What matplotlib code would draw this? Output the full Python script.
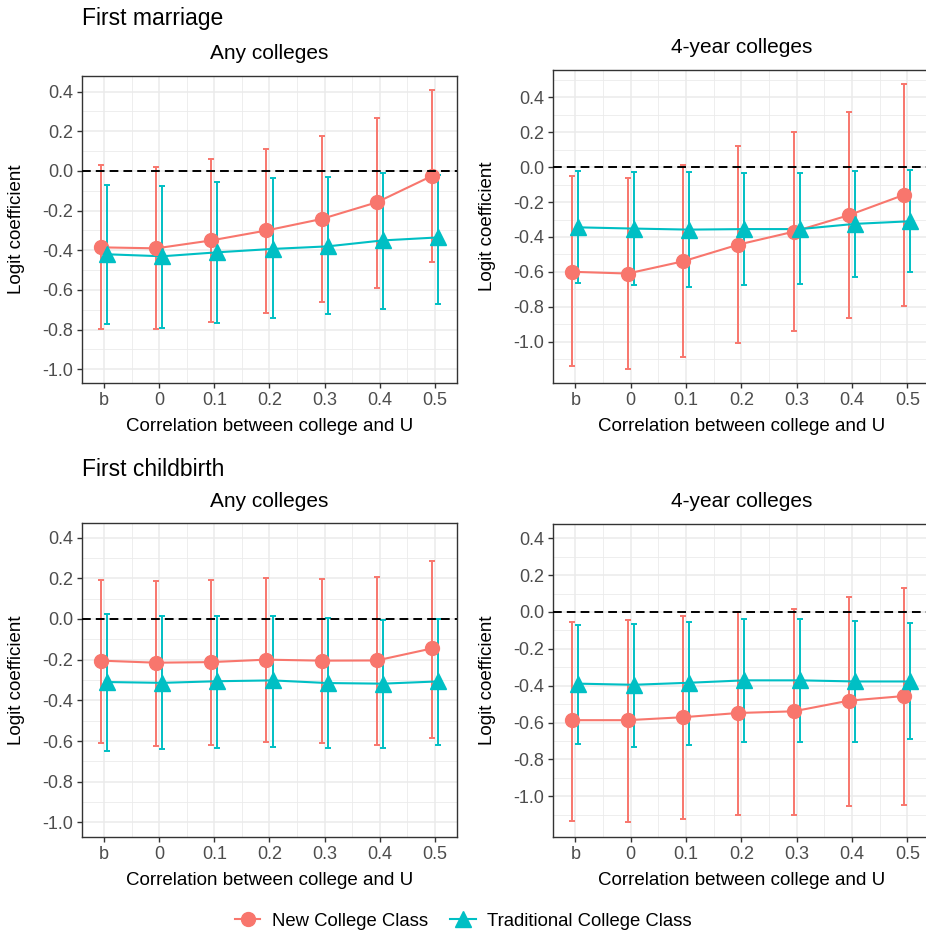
import numpy as np
import matplotlib
matplotlib.use("Agg")
import matplotlib.pyplot as plt
from matplotlib.lines import Line2D

plt.rcParams['font.family'] = ['Liberation Sans', 'DejaVu Sans']
plt.rcParams['axes.unicode_minus'] = False

# categories on the x axis
categories = ["b", "0", "0.1", "0.2", "0.3", "0.4", "0.5"]

# First marriage, any colleges
marriage_any_new = [-0.385, -0.39, -0.35, -0.30, -0.242, -0.158, -0.025]
marriage_any_new_lo = [-0.795, -0.795, -0.76, -0.715, -0.66, -0.588, -0.46]
marriage_any_new_hi = [0.03, 0.02, 0.063, 0.113, 0.178, 0.268, 0.41]
marriage_any_trad = [-0.42, -0.43, -0.41, -0.393, -0.38, -0.35, -0.335]
marriage_any_trad_lo = [-0.77, -0.79, -0.767, -0.74, -0.72, -0.695, -0.67]
marriage_any_trad_hi = [-0.07, -0.075, -0.057, -0.037, -0.028, -0.008, -0.02]

# First marriage, 4-year colleges
marriage_4yr_new = [-0.60, -0.61, -0.54, -0.444, -0.37, -0.275, -0.158]
marriage_4yr_new_lo = [-1.143, -1.158, -1.088, -1.006, -0.94, -0.865, -0.797]
marriage_4yr_new_hi = [-0.053, -0.06, 0.011, 0.122, 0.20, 0.318, 0.476]
marriage_4yr_trad = [-0.345, -0.352, -0.358, -0.355, -0.355, -0.325, -0.31]
marriage_4yr_trad_lo = [-0.665, -0.678, -0.686, -0.678, -0.67, -0.63, -0.60]
marriage_4yr_trad_hi = [-0.02, -0.027, -0.03, -0.036, -0.036, -0.02, -0.015]

# First childbirth, any colleges
child_any_new = [-0.205, -0.215, -0.212, -0.20, -0.205, -0.204, -0.145]
child_any_new_lo = [-0.61, -0.622, -0.619, -0.603, -0.61, -0.619, -0.583]
child_any_new_hi = [0.193, 0.185, 0.189, 0.203, 0.195, 0.208, 0.284]
child_any_trad = [-0.31, -0.314, -0.306, -0.302, -0.315, -0.318, -0.307]
child_any_trad_lo = [-0.647, -0.64, -0.634, -0.627, -0.636, -0.636, -0.619]
child_any_trad_hi = [0.025, 0.013, 0.016, 0.016, 0.005, -0.007, 0.0]

# First childbirth, 4-year colleges
child_4yr_new = [-0.587, -0.587, -0.571, -0.548, -0.539, -0.481, -0.456]
child_4yr_new_lo = [-1.133, -1.142, -1.124, -1.103, -1.099, -1.052, -1.047]
child_4yr_new_hi = [-0.052, -0.043, -0.023, 0.0, 0.018, 0.083, 0.128]
child_4yr_trad = [-0.389, -0.395, -0.384, -0.371, -0.371, -0.377, -0.377]
child_4yr_trad_lo = [-0.715, -0.733, -0.724, -0.706, -0.703, -0.703, -0.69]
child_4yr_trad_hi = [-0.07, -0.063, -0.052, -0.038, -0.04, -0.05, -0.06]

y_ticks = [-1.0, -0.8, -0.6, -0.4, -0.2, 0.0, 0.2, 0.4]

RED = "#F8766D"
TEAL = "#00BFC4"
W, H = 926, 934

fig = plt.figure(figsize=(W / 100, H / 100), dpi=100)


def px_axes(left, right, top, bottom):
    return fig.add_axes([left / W, 1 - bottom / H, (right - left) / W, (bottom - top) / H])


def draw_panel(ax, new, new_lo, new_hi, trad, trad_lo, trad_hi, floor):
    x = np.arange(1, len(categories) + 1)
    dodge = 0.055
    series = [(x - dodge, new, new_lo, new_hi, RED, "o", 10),
              (x + dodge, trad, trad_lo, trad_hi, TEAL, "^", 11.5)]
    for xs, est, lo, hi, col, mk, ms in series:
        est = np.array(est)
        ax.errorbar(xs, est, yerr=[est - np.array(lo), np.array(hi) - est], fmt="none",
                    ecolor=col, elinewidth=1.4, capsize=2.5, capthick=1.4, zorder=3)
    for xs, est, lo, hi, col, mk, ms in series:
        ax.plot(xs, est, color=col, lw=1.5, zorder=4)
    for i, (xs, est, lo, hi, col, mk, ms) in enumerate(series):
        ax.plot(xs, est, linestyle="none", marker=mk, markersize=ms, color=col, zorder=5 + i)
    ax.axhline(0, color="black", lw=1.4, dashes=(4.5, 2.6), zorder=6)

    lo_all = min(min(new_lo), min(trad_lo), floor)
    hi_all = max(max(new_hi), max(trad_hi), 0.4)
    pad = 0.05 * (hi_all - lo_all)

    ax.set_xticks(x)
    ax.set_xticklabels(categories)
    ax.set_xticks(x[:-1] + 0.5, minor=True)
    ax.set_yticks(y_ticks)
    ax.set_yticklabels([f"{v:.1f}" for v in y_ticks])
    ax.set_yticks(np.arange(-1.1, 0.6, 0.2), minor=True)
    ax.set_xlim(0.6, len(categories) + 0.4)
    ax.set_ylim(lo_all - pad, hi_all + pad)

    ax.grid(True, which="major", color="#EBEBEB", lw=1.1, zorder=0)
    ax.grid(True, which="minor", color="#EBEBEB", lw=0.6, zorder=0)
    ax.set_axisbelow(True)
    ax.tick_params(which="major", length=3.5, width=1.0, color="#333333",
                   labelcolor="#4D4D4D", labelsize=13, pad=3)
    ax.tick_params(which="minor", length=0)
    for s in ax.spines.values():
        s.set_color("#333333")
        s.set_linewidth(1.0)

    ax.set_xlabel("Correlation between college and U", fontsize=13.5, color="black")
    ax.set_ylabel("Logit coefficient", fontsize=13.5, color="black")


panels = [
    ((82, 457, 75.7, 383.3), "Any colleges",
     (marriage_any_new, marriage_any_new_lo, marriage_any_new_hi,
      marriage_any_trad, marriage_any_trad_lo, marriage_any_trad_hi), -1.0),
    ((553.3, 929.5, 70, 383.3), "4-year colleges",
     (marriage_4yr_new, marriage_4yr_new_lo, marriage_4yr_new_hi,
      marriage_4yr_trad, marriage_4yr_trad_lo, marriage_4yr_trad_hi), 0.0),
    ((82, 457, 523.3, 836.7), "Any colleges",
     (child_any_new, child_any_new_lo, child_any_new_hi,
      child_any_trad, child_any_trad_lo, child_any_trad_hi), -1.0),
    ((553.3, 929.5, 524, 836.7), "4-year colleges",
     (child_4yr_new, child_4yr_new_lo, child_4yr_new_hi,
      child_4yr_trad, child_4yr_trad_lo, child_4yr_trad_hi), 0.0),
]

for (l, r, t, b), strip, data, floor in panels:
    ax = px_axes(l, r, t, b)
    draw_panel(ax, *data, floor)
    ax.set_title(strip, fontsize=15, pad=12)
    ylab_x = l - 66
    ax.yaxis.set_label_coords((ylab_x - l) / (r - l), 0.5)
    ax.yaxis.label.set_va("center")
    ax.xaxis.set_label_coords(0.5, -(43.7) / (b - t))
    ax.xaxis.label.set_va("center")

fig.text(82 / W, 1 - 18 / H, "First marriage", fontsize=16.5, va="center", ha="left")
fig.text(82 / W, 1 - 470 / H, "First childbirth", fontsize=16.5, va="center", ha="left")

handles = [
    Line2D([], [], color=RED, lw=1.5, marker="o", markersize=10),
    Line2D([], [], color=TEAL, lw=1.5, marker="^", markersize=11.5),
]
fig.legend(handles, ["New College Class", "Traditional College Class"], loc="center",
           bbox_to_anchor=(0.5, 1 - 921 / H), ncol=2, frameon=False, fontsize=13.3,
           handlelength=1.4, columnspacing=1.2, handletextpad=0.6)

fig.savefig("out.png", dpi=100)
